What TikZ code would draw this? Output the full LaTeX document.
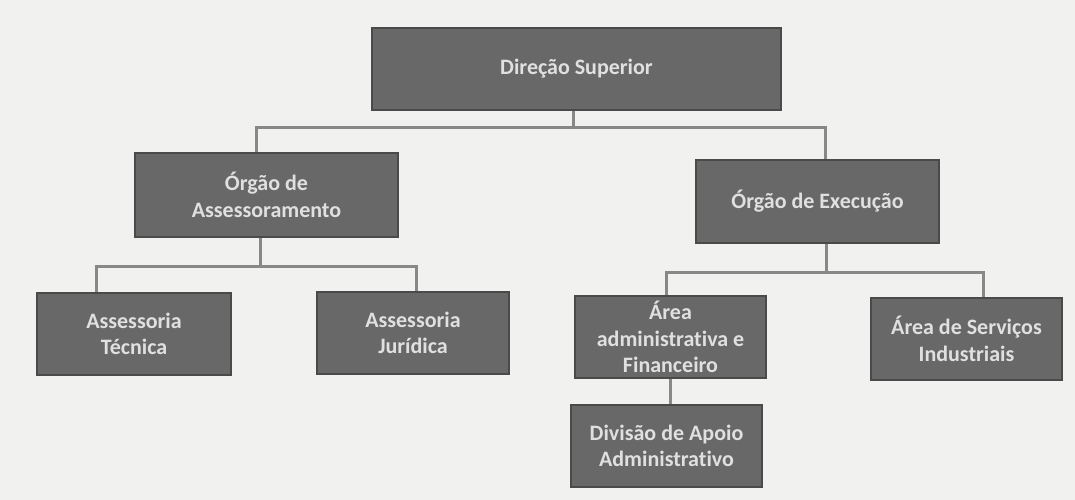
\documentclass[tikz,border=0pt]{standalone}
\usepackage{fontspec}
\setmainfont{Carlito}[Ligatures=NoCommon]
\newfontfamily\boxfont{Carlito}[Ligatures=NoCommon]
\definecolor{paper}{HTML}{F1F1EF}
\definecolor{boxfill}{HTML}{686868}
\definecolor{boxline}{HTML}{4A4A4A}
\definecolor{boxtext}{HTML}{E0E0E0}
\definecolor{linecol}{HTML}{888888}
\begin{document}
\begin{tikzpicture}[x=1pt,y=-1pt,
  orgbox/.style={rectangle, draw=boxline, line width=1.3pt, fill=boxfill,
    text=boxtext, align=center, inner sep=0pt,
    font=\boxfont\bfseries\fontsize{22}{26.5}\selectfont},
  conn/.style={draw=linecol, line width=3pt, line join=miter}]
\fill[paper] (0,0) rectangle (1075,500);
\useasboundingbox (0,0) rectangle (1075,500);

\coordinate (hL) at (256,127);
\coordinate (hM) at (573,127);
\coordinate (hR) at (825,127);
\coordinate (aL) at (96,266);
\coordinate (aM) at (260,266);
\coordinate (aR) at (416,266);
\coordinate (eL) at (666,272.5);
\coordinate (eM) at (826,272.5);
\coordinate (eR) at (983,272.5);
\coordinate (dv) at (670,392);

\node[orgbox, minimum width=409pt, minimum height=82pt] (dir) at (576.5,69) {Direção Superior};
\node[orgbox, minimum width=263pt, minimum height=84pt] (ass) at (266.5,195) {Órgão de\\Assessoramento};
\node[orgbox, minimum width=243pt, minimum height=83pt] (exe) at (817.5,201.5) {Órgão de Execução};
\node[orgbox, minimum width=194pt, minimum height=82pt] (tec) at (134,334) {Assessoria\\Técnica};
\node[orgbox, minimum width=192pt, minimum height=82pt] (jur) at (413,333) {Assessoria\\Jurídica};
\node[orgbox, minimum width=191pt, minimum height=82pt] (adm) at (670.5,337) {Área\\administrativa e\\Financeiro};
\node[orgbox, minimum width=191pt, minimum height=82pt] (ser) at (966.5,339) {Área de Serviços\\Industriais};
\node[orgbox, minimum width=191pt, minimum height=82pt] (div) at (666.5,446) {Divisão de Apoio\\Administrativo};

\draw[conn] ([yshift=-0.7pt]dir.south -| hM) -- (hM);
\draw[conn] ([yshift=0.7pt]hL |- ass.north) -- (hL) -- (hR) -- ([yshift=0.7pt]hR |- exe.north);
\draw[conn] ([yshift=-0.7pt]ass.south -| aM) -- (aM);
\draw[conn] ([yshift=0.7pt]aL |- tec.north) -- (aL) -- (aR) -- ([yshift=0.7pt]aR |- jur.north);
\draw[conn] ([yshift=-0.7pt]exe.south -| eM) -- (eM);
\draw[conn] ([yshift=0.7pt]eL |- adm.north) -- (eL) -- (eR) -- ([yshift=0.7pt]eR |- ser.north);
\draw[conn] ([yshift=-0.7pt]adm.south -| dv) -- ([yshift=0.7pt]dv |- div.north);
\end{tikzpicture}
\end{document}
